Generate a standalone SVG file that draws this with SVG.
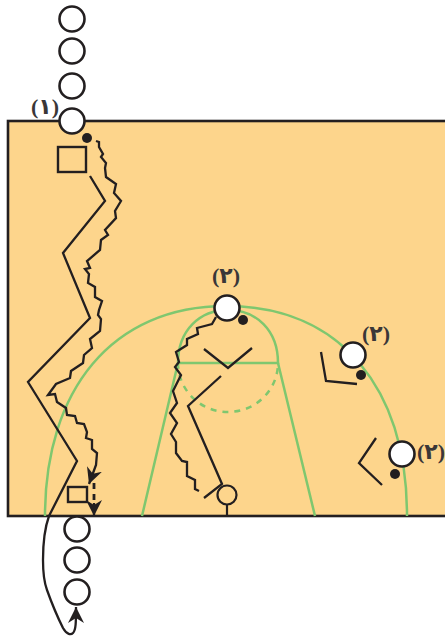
<svg xmlns="http://www.w3.org/2000/svg" width="445" height="638" viewBox="0 0 445 638">
<style>
.l{fill:none;stroke:#231f20;stroke-width:2.3;stroke-linejoin:miter}
.g{fill:none;stroke:#7fc76f;stroke-width:2.5}
.p{fill:#fff;stroke:#231f20;stroke-width:2.6}
.d{fill:#231f20}
.t{font-family:"Liberation Serif","DejaVu Sans",serif;font-weight:bold;font-size:22px;fill:#3a3738;text-anchor:middle}
</style>
<defs>
<marker id="a" markerUnits="userSpaceOnUse" markerWidth="20" markerHeight="20" refX="16" refY="8" orient="auto"><path d="M16,8L0,0L5,8L0,16Z" fill="#231f20"/></marker>
</defs>
<rect id="court" x="8" y="121" width="440" height="395" fill="#fdd58c" stroke="#231f20" stroke-width="2.6"/>
<g id="lines">
<path class="g" d="M45,516C45,390 112,306 226,306C342,306 407,390 407,516"/>
<path class="g" d="M178,363C178,330 200,310 228,310C256,310 278,330 278,363Z"/>
<path class="g" d="M178,363L142,516M278,363L315,516"/>
<path class="g" d="M178,363A50,49 0 0 0 278,363" stroke-dasharray="6 6"/>
</g>
<g id="connectors">
<polyline class="l" points="90,176 105,201 63,253 90,318 28,382 77,461 49,516"/>
<path class="l" d="M49,516C44,530 43,545 43,560C43,572 44,582 47,590C52,604 58,618 63,628C67,635 71,635 73,633C76,630 76,622 76,607" marker-end="url(#a)"/>
<polyline class="l" points="96,141 99,142 99,147 103,154 101,157 106,163 105,168 106,177 116,184 114,193 121,201 115,211 116,218 105,230 108,235 101,240 100,250 87,261 90,268 85,269 89,274 88,283 95,287 95,297 102,301 99,310 98,315 101,319 100,331 90,339 92,348 84,355 83,363 71,371 70,378 56,384 48,395 55,394 57,402 66,408 67,415 75,416 77,423 84,424 87,432 86,438 92,440 92,449 97,453 96,465 89,484" marker-end="url(#a)"/>
<path d="M94,483V503" fill="none" stroke="#231f20" stroke-width="2.8" stroke-dasharray="6 5"/>
<path class="l" d="M94,503V516" marker-end="url(#a)"/>
<polyline class="l" points="216,317 212,324 197,328 198,334 187,339 187,345 176,352 179,362 175,367 181,375 177,383 173,391 177,403 170,413 177,423 171,434 176,442 176,453 182,461 187,462 187,476 195,480 195,489 199,491"/>
<polyline class="l" points="204,349 228,368 252,348"/>
<polyline class="l" points="221,376 188,406 222,484 204,498"/>
<polyline class="l" points="321,352 326,381 357,384"/>
<polyline class="l" points="376,438 359,463 382,485"/>
</g>
<g id="queue-top">
<circle class="p" cx="72" cy="19" r="12.5"/>
<circle class="p" cx="72" cy="51" r="12.5"/>
<circle class="p" cx="72" cy="86" r="12.5"/>
</g>
<g id="player-1">
<circle class="p" cx="72" cy="121" r="12.5"/>
<circle class="d" cx="87" cy="138" r="5"/>
<text class="t" x="45" y="114">(١)</text>
</g>
<g id="defender-1"><rect x="58" y="147" width="28" height="25" fill="none" stroke="#231f20" stroke-width="2.4"/></g>
<g id="defender-2"><rect x="68" y="487" width="19" height="15" fill="none" stroke="#231f20" stroke-width="2.4"/></g>
<g id="queue-bottom">
<circle class="p" cx="77" cy="529" r="12.5"/>
<circle class="p" cx="77" cy="560" r="12.5"/>
<circle class="p" cx="77" cy="592" r="12.5"/>
</g>
<g id="player-2a">
<circle class="p" cx="227" cy="308" r="12.5"/>
<circle class="d" cx="243" cy="320" r="5"/>
<text class="t" x="226" y="283">(٢)</text>
</g>
<g id="player-2b">
<circle class="p" cx="353" cy="355" r="12.5"/>
<circle class="d" cx="361" cy="375" r="5"/>
<text class="t" x="376" y="341">(٢)</text>
</g>
<g id="player-2c">
<circle class="p" cx="402" cy="454" r="12.5"/>
<circle class="d" cx="395" cy="474" r="5"/>
<text class="t" x="431" y="459">(٢)</text>
</g>
<g id="hoop">
<circle cx="227" cy="495" r="9.5" fill="none" stroke="#231f20" stroke-width="2.2"/>
<path d="M227,505V516" fill="none" stroke="#231f20" stroke-width="2.2"/>
</g>
</svg>
